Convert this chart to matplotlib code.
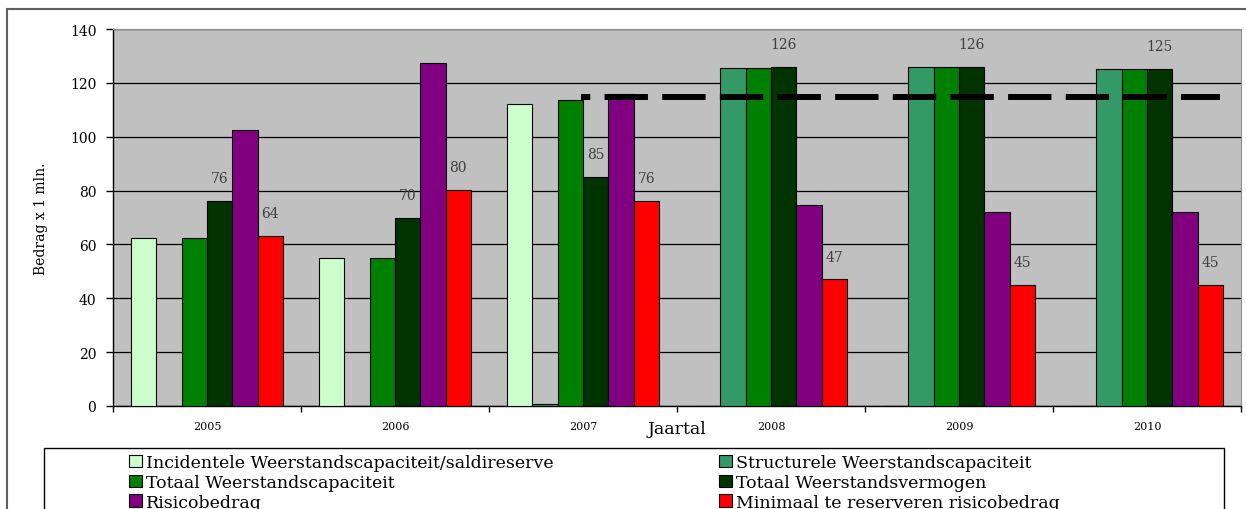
import numpy as np
import matplotlib.pyplot as plt
from matplotlib.patches import Rectangle, Patch

plt.rcParams['font.family'] = 'DejaVu Serif'
plt.rcParams['lines.scale_dashes'] = False

# data
jaren = ['2005', '2006', '2007', '2008', '2009', '2010']
incidenteel = [62.5, 55, 112.3, 0, 0, 0]
structureel = [0, 0, 0.7, 125.5, 126, 125]
totaal_capaciteit = [62.5, 55, 113.7, 125.5, 126, 125]
totaal_vermogen = [76, 70, 85, 126, 126, 125]
risicobedrag = [102.4, 127.4, 116, 74.8, 72, 72]
minimaal = [63.3, 80.3, 76.2, 47, 45, 45]
labels_vermogen = ['76', '70', '85', '126', '126', '125']
labels_minimaal = ['64', '80', '76', '47', '45', '45']
norm_x = [1.99, 5.39]
norm_y = [114.7, 114.7]

series = [
    ('Incidentele Weerstandscapaciteit/saldireserve', incidenteel, '#CCFFCC'),
    ('Structurele Weerstandscapaciteit', structureel, '#339966'),
    ('Totaal Weerstandscapaciteit', totaal_capaciteit, '#008000'),
    ('Totaal Weerstandsvermogen', totaal_vermogen, '#003300'),
    ('Risicobedrag', risicobedrag, '#800080'),
    ('Minimaal te reserveren risicobedrag', minimaal, '#FF0000'),
]

fig = plt.figure(figsize=(12.46, 5.10), dpi=100)
ax = fig.add_axes([113/1246, 1-407/510, (1241-113)/1246, (407-30)/510])
ax.set_facecolor('#C0C0C0')

x = np.arange(len(jaren))
w = 0.1346
bars = []
for i, (name, vals, col) in enumerate(series):
    b = ax.bar(x + (i - 2.5) * w, vals, w, color=col, edgecolor='black',
               linewidth=0.8, zorder=3, label=name)
    bars.append(b)

for rect, txt in zip(bars[3], labels_vermogen):
    ax.annotate(txt, (rect.get_x() + rect.get_width()/2, rect.get_height()),
                xytext=(0, 16.5), textcoords='offset points', ha='center',
                va='center', fontsize=10, color='#404040', zorder=5)
for rect, txt in zip(bars[5], labels_minimaal):
    ax.annotate(txt, (rect.get_x() + rect.get_width()/2, rect.get_height()),
                xytext=(0, 16.5), textcoords='offset points', ha='center',
                va='center', fontsize=10, color='#404040', zorder=5)

# norm line
ax.plot(norm_x, norm_y, color='black', lw=4.3, ls=(24.5, (31.2, 10.3)),
        solid_capstyle='butt', dash_capstyle='butt', zorder=4)

ax.set_xlim(-0.5, 5.5)
ax.set_ylim(0, 140)
ax.set_yticks(range(0, 141, 20))
ax.yaxis.grid(True, color='black', lw=0.9, zorder=1)
ax.set_axisbelow(True)
ax.set_xticks(x)
ax.set_xticklabels(jaren, fontsize=8)
ax.set_xticks(np.arange(-0.5, 6.0, 1), minor=True)
ax.tick_params(axis='x', which='major', length=0, pad=11)
ax.tick_params(axis='x', which='minor', length=4, width=1, color='black', direction='out')
ax.tick_params(axis='y', length=5, width=1, color='black', labelsize=10, pad=7)

for s in ['top', 'right']:
    ax.spines[s].set_color('#8C8C8C')
for s in ['left', 'bottom']:
    ax.spines[s].set_color('black')
    ax.spines[s].set_linewidth(1)

ax.set_ylabel('Bedrag x 1 mln.', fontsize=10, labelpad=16)
ax.set_xlabel('Jaartal', fontsize=12.5, labelpad=-8)

# outer frame and legend box
fig.patches.append(Rectangle((7/1246, -0.1), 2, (510-10)/510 + 0.1,
                             transform=fig.transFigure, fill=False,
                             edgecolor='#606060', lw=1.5))
fig.patches.append(Rectangle((44/1246, -0.1), (1224-44)/1246, (510-449)/510 + 0.1,
                             transform=fig.transFigure, fill=False,
                             edgecolor='black', lw=1))

handles = [Patch(facecolor=c, edgecolor='black', lw=0.8, label=n) for n, v, c in series]
kw = dict(loc='upper left', frameon=False, fontsize=12.5, handlelength=0.75,
          handleheight=0.75, handletextpad=0.25, labelspacing=0.17,
          borderpad=0, borderaxespad=0)
fig.legend(handles=[handles[0], handles[2], handles[4]],
           bbox_to_anchor=(129/1246, 1-455/510), **kw)
fig.legend(handles=[handles[1], handles[3], handles[5]],
           bbox_to_anchor=(719/1246, 1-455/510), **kw)

fig.savefig('out.png', dpi=100)
